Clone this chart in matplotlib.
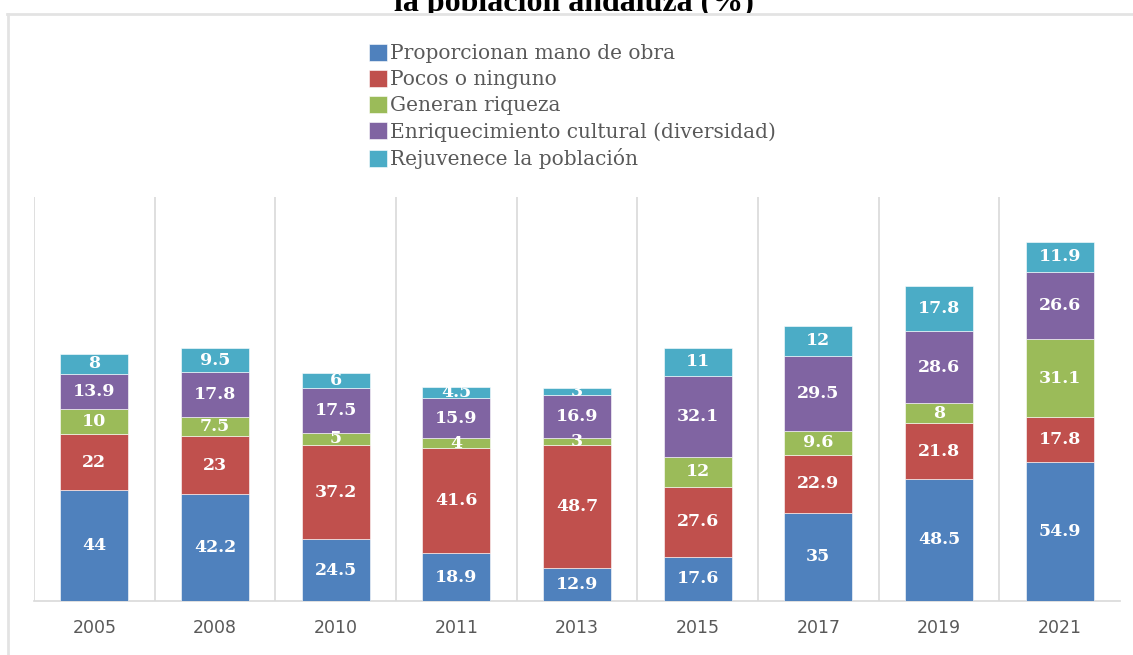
import numpy as np
import matplotlib.pyplot as plt
from matplotlib.lines import Line2D
from matplotlib.patches import Rectangle

years = ["2005", "2008", "2010", "2011", "2013", "2015", "2017", "2019", "2021"]
mano_obra = [44, 42.2, 24.5, 18.9, 12.9, 17.6, 35, 48.5, 54.9]
pocos = [22, 23, 37.2, 41.6, 48.7, 27.6, 22.9, 21.8, 17.8]
riqueza = [10, 7.5, 5, 4, 3, 12, 9.6, 8, 31.1]
cultural = [13.9, 17.8, 17.5, 15.9, 16.9, 32.1, 29.5, 28.6, 26.6]
rejuvenece = [8, 9.5, 6, 4.5, 3, 11, 12, 17.8, 11.9]

series = [mano_obra, pocos, riqueza, cultural, rejuvenece]
names = ["Proporcionan mano de obra", "Pocos o ninguno", "Generan riqueza",
         "Enriquecimiento cultural (diversidad)", "Rejuvenece la población"]
colors = ["#4F81BD", "#C0504D", "#9BBB59", "#8064A2", "#4BACC6"]

fig = plt.figure(figsize=(11.33, 6.55), dpi=100)
ax = fig.add_axes([34/1133, 1-601/655, 1086/1133, 404/655])

x = np.arange(len(years))
bottom = np.zeros(len(years))
for vals, name, c in zip(series, names, colors):
    vals = np.array(vals, dtype=float)
    ax.bar(x, vals, 0.565, bottom=bottom, color=c, label=name,
           edgecolor="white", linewidth=0.4, zorder=3)
    for xi, b, v in zip(x, bottom, vals):
        ax.text(xi, b + v/2, f"{v:g}", ha="center", va="center", color="white",
                fontsize=12.5, fontweight="bold", family="DejaVu Serif", zorder=4)
    bottom += vals

ax.set_xlim(-0.5, len(years) - 0.5)
ax.set_ylim(0, 160)
for b in np.arange(-0.5, len(years) - 1):
    ax.axvline(b, color="#D9D9D9", lw=1.2, zorder=1)
for s in ["top", "right", "left"]:
    ax.spines[s].set_visible(False)
ax.spines["bottom"].set_color("#D9D9D9")
ax.spines["bottom"].set_linewidth(1.2)
ax.set_yticks([])
ax.set_xticks(x)
ax.set_xticklabels(years, color="#595959", fontsize=12.5)
ax.tick_params(axis="x", length=0, pad=13)

leg = fig.legend(loc="upper left", bbox_to_anchor=(359/1133, 1-34/655), frameon=False,
                 prop={"family": "DejaVu Serif", "size": 14.5}, labelcolor="#595959",
                 handlelength=0.9, handleheight=0.9, handletextpad=0.15,
                 labelspacing=0.33, borderpad=0)

# title (cut off at the top in the reference)
fig.text(574/1133, 1-11/655, "la población andaluza (%)", ha="center", va="baseline",
         family="Liberation Serif", fontweight="bold", fontsize=23, zorder=1)
# chart box hides the lower part of the title
fig.add_artist(Rectangle((0, 1-30/655), 1, 16.5/655, transform=fig.transFigure,
                         facecolor="white", edgecolor="none", zorder=2))

# outer frame of the chart box
fig.add_artist(Line2D([7/1133, 1], [1-13.5/655, 1-13.5/655], color="#E3E3E3", lw=2, zorder=3))
fig.add_artist(Line2D([7.5/1133, 7.5/1133], [0, 1-13.5/655], color="#E3E3E3", lw=2, zorder=3))

fig.savefig("out.png", dpi=100)
